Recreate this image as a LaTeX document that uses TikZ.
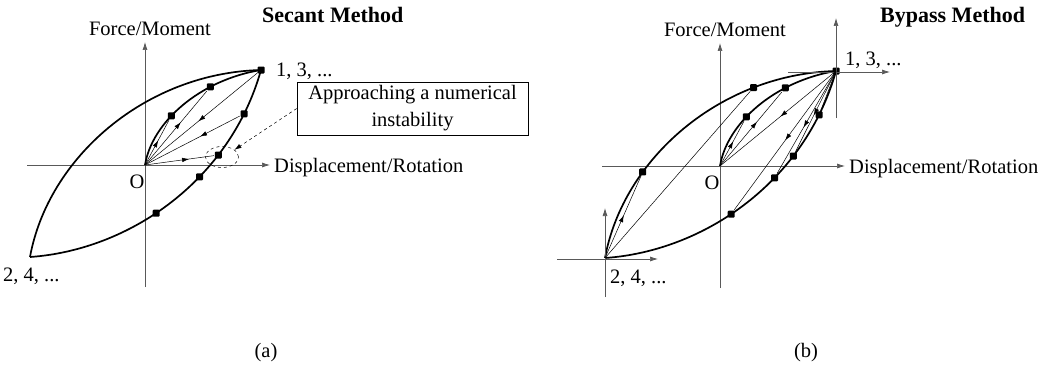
\documentclass[tikz,border=0pt]{standalone}
\usepackage{fontspec}
\setmainfont{Liberation Serif}
\usetikzlibrary{arrows.meta,decorations.markings,shapes.geometric}

\tikzset{
  axisline/.style={draw=black!65,line width=0.7pt,-{Latex[length=8pt,width=5pt]}},
  hyst/.style={line width=1.7pt},
  secant/.style={line width=0.5pt},
  sqdot/.style={fill=black,rectangle,rounded corners=1pt,minimum size=7pt,inner sep=0pt},
  midarrow/.style={postaction={decorate,decoration={markings,
      mark=at position #1 with {\arrow{Latex[length=7pt,width=4.5pt]}}}}},
  midarrow/.default=0.5,
  lbl/.style={font=\fontsize{20.5}{24}\selectfont,inner sep=0pt},
  ttl/.style={font=\fontsize{22}{26}\selectfont\bfseries,inner sep=0pt},
}

\begin{document}
\begin{tikzpicture}[x=1pt,y=-1pt]
\useasboundingbox (0,0) rectangle (1048,369);

% the same loop in both panels
\foreach \p/\dx/\dy in {a/0/0,b/575/1}{
\begin{scope}[shift={(\dx,\dy)},name prefix=\p-]
  \coordinate (O) at (145,165);
  \coordinate (pk) at (261,70);
  \coordinate (lo) at (30,257);
  \coordinate (ybot) at (145,287);
  \coordinate (ytop) at (145,42);
  \coordinate (xl) at (27,165);
  \coordinate (xr) at (270,165);
  \draw[axisline] (ybot) -- (ytop);
  \draw[axisline] (xl) -- (xr);
  \node[lbl,anchor=base] (fm) at (150,36) {Force/Moment};
  \node[lbl,anchor=base west] (dr) at (274,172) {Displacement/Rotation};
  \node[lbl] (orig) at (137,182) {O};
  % envelope and virgin curve
  \draw[hyst] (lo) .. controls (48,158) and (145,73) .. (pk)
    coordinate[pos=0.31] (u1) coordinate[pos=0.75] (u2);
  \draw[hyst] (lo) .. controls (130,250) and (230,180) .. (pk)
    node[sqdot,pos=0.44] (l1) {} node[sqdot,pos=0.62] (l2) {}
    node[sqdot,pos=0.71] (l3) {} node[sqdot,pos=0.86] (l4) {};
  \draw[hyst] (O) .. controls (152,122) and (200,80) .. (pk)
    node[sqdot,pos=0.4] (i1) {} node[sqdot,pos=0.7] (i2) {};
  \node[sqdot] (pkdot) at (pk) {};
\end{scope}}

% (a) secant method
\node[ttl,anchor=base west] (ta) at (262,23) {Secant Method};
\node[lbl,anchor=base west] (a13) at (276,76) {1, 3, ...};
\node[lbl,anchor=base west] (a24) at (3,281) {2, 4, ...};
\draw[secant,midarrow=0.55] (a-O) -- (a-i1);
\draw[secant,midarrow=0.58] (a-O) -- (a-i2);
\draw[secant,midarrow=0.54] (a-pk) -- (a-O);
\draw[secant,midarrow=0.42] (a-l4) -- (a-O);
\draw[secant,midarrow=0.64] (a-O) -- (a-l3);
\node[draw,dashed,ellipse,line width=0.5pt,minimum width=33pt,minimum height=21pt,inner sep=0pt]
  (circ) at (222,157) {};
\node[draw,line width=0.6pt,minimum width=231pt,minimum height=53pt,align=center,
  font=\fontsize{20.5}{27}\selectfont] (box) at (412.5,108.5) {Approaching a numerical\\instability};
\draw[secant,dashed,-{Latex[length=7pt,width=4.5pt]}] (box.west) -- (circ.30);
\node[lbl] (capa) at (266,353) {(a)};

% (b) bypass method
\node[ttl,anchor=base west] (tb) at (880,23) {Bypass Method};
\node[lbl,anchor=base west] (b13) at (845,65) {1, 3, ...};
\node[lbl,anchor=base west] (b24) at (610,283) {2, 4, ...};
\coordinate (lol) at (557,259);
\coordinate (lor) at (658,259);
\coordinate (lob) at (605,297);
\coordinate (lot) at (605,208);
\coordinate (pkl) at (788,72);
\coordinate (pkr) at (890,72);
\coordinate (pkb) at (836,118);
\coordinate (pkt) at (836,18);
\draw[axisline] (lol) -- (lor);
\draw[axisline] (lob) -- (lot);
\draw[axisline] (pkl) -- (pkr);
\draw[axisline] (pkb) -- (pkt);
\node[sqdot] (bu1) at (b-u1) {};
\node[sqdot] (bu2) at (b-u2) {};
\draw[secant] (b-lo) -- (bu2);
\draw[secant,midarrow=0.52] (b-lo) -- (bu1);
\draw[secant,midarrow=0.55] (b-O) -- (b-i1);
\draw[secant,midarrow=0.6] (b-O) -- (b-i2);
\draw[secant,midarrow=0.48] (b-pk) -- (b-O);
\draw[secant,midarrow=0.5] (b-pk) -- (b-l1);
\draw[secant,midarrow=0.55] (b-pk) -- (b-l2);
\draw[secant,midarrow=0.55] (b-pk) -- (b-l3);
\draw[secant] (b-pk) -- (b-l4);
\node[lbl] (capb) at (806,353) {(b)};
\end{tikzpicture}
\end{document}
